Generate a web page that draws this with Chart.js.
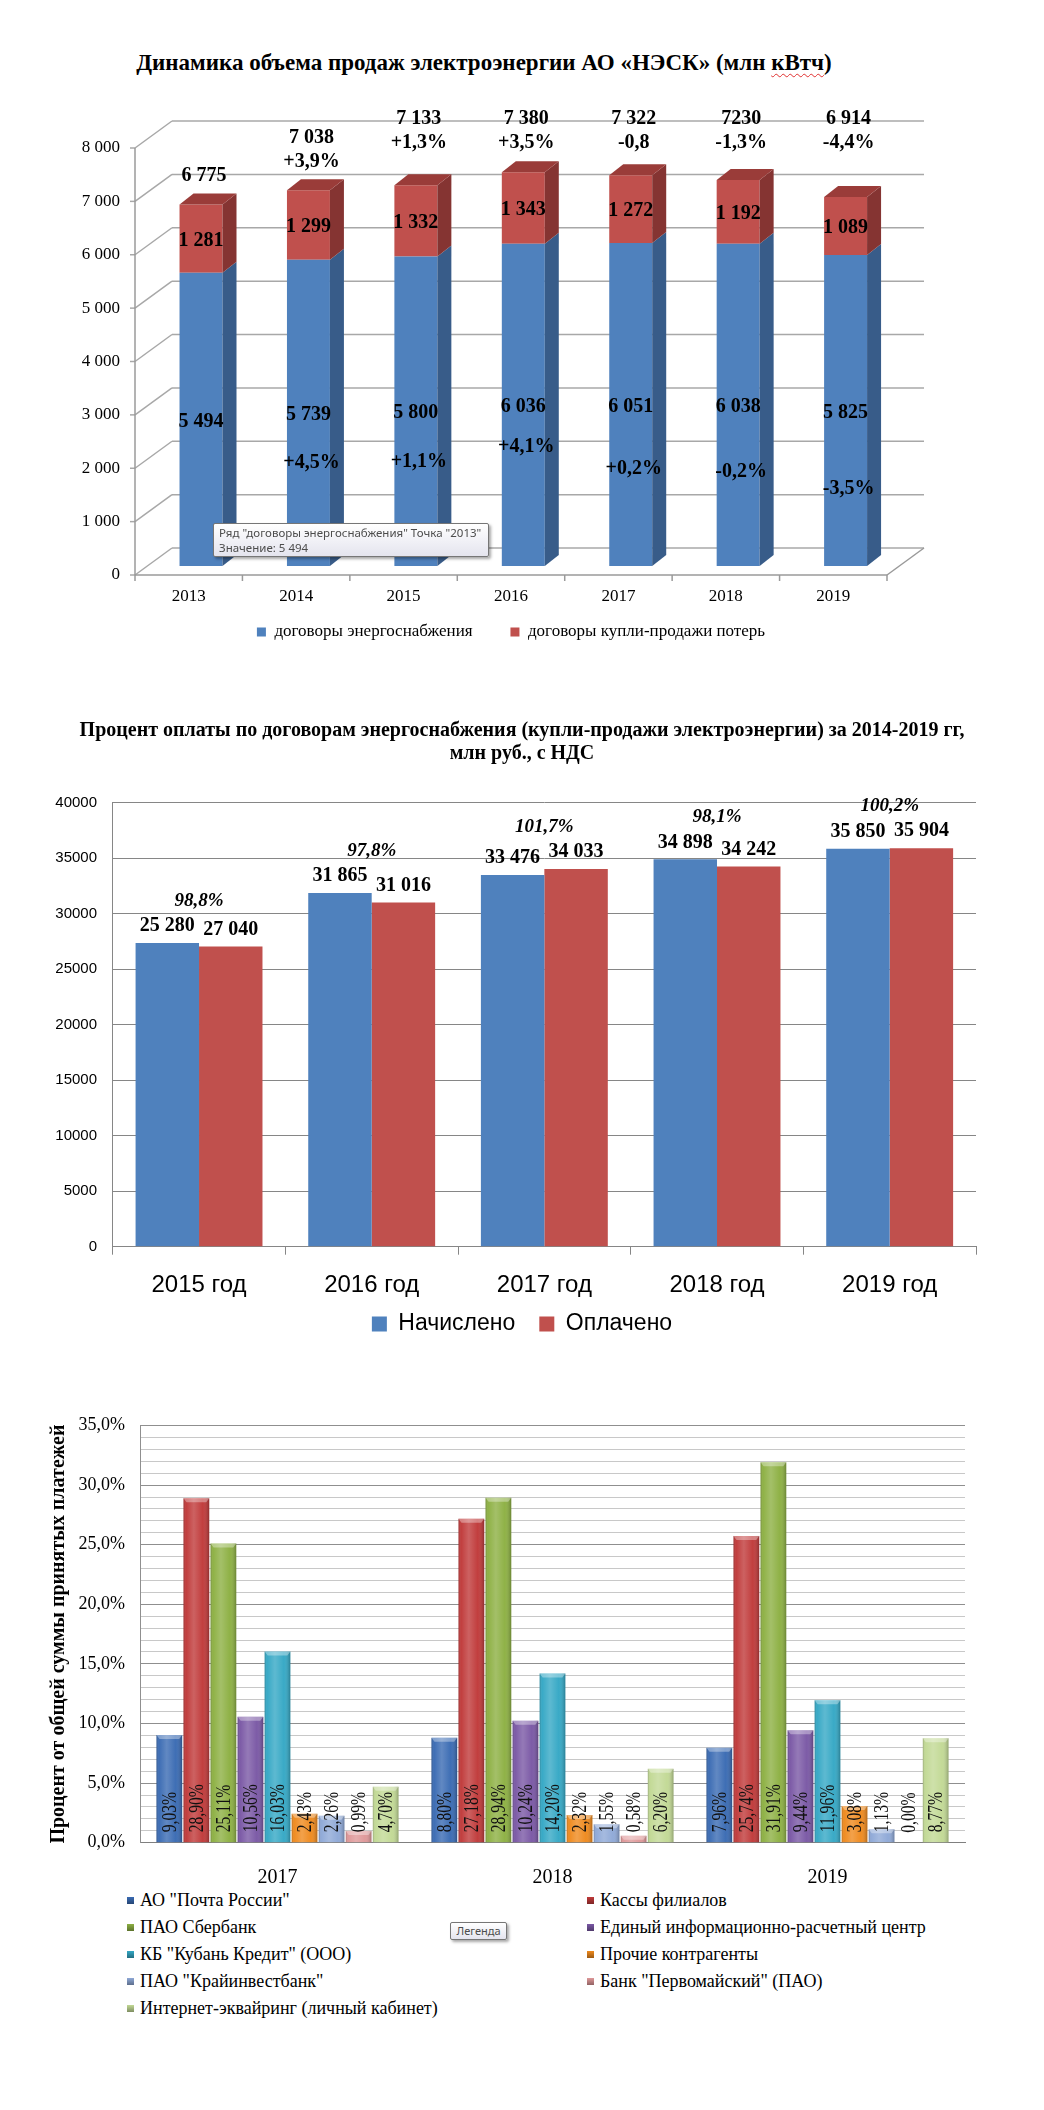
<!DOCTYPE html>
<html><head><meta charset="utf-8">
<script src="https://cdn.jsdelivr.net/npm/chart.js@4.4.1/dist/chart.umd.min.js"></script>
<style>
body{margin:0;background:#fff;width:1044px;height:2110px;position:relative;overflow:hidden;font-family:"Liberation Serif",serif;}
canvas{position:absolute;left:0;}
.title1{position:absolute;left:0;width:968px;top:50px;text-align:center;font:bold 23px "Liberation Serif";color:#000;white-space:nowrap;}
.wavy{text-decoration:underline wavy #e03030;text-decoration-thickness:1px;text-underline-offset:3px;}
.tip{position:absolute;border:1px solid #767676;border-radius:2px;background:linear-gradient(#ffffff,#e4e4ee);box-shadow:2px 2px 3px rgba(0,0,0,0.35);font:11.5px "Noto Sans",sans-serif;color:#4c4c4c;white-space:nowrap;box-sizing:border-box;overflow:hidden;}
#legend3{position:absolute;left:0;top:0;}
.lg3{position:absolute;font:18px "Liberation Serif";color:#000;white-space:nowrap;line-height:20px;}
.lg3 i{position:absolute;left:-13px;top:7px;width:7px;height:7px;}
</style></head><body>
<div class="title1">Динамика объема продаж электроэнергии АО «НЭСК» (млн <span class="wavy">кВтч</span>)</div>
<canvas id="c1" width="1022" height="680" style="top:0"></canvas>
<canvas id="c2" width="1044" height="680" style="top:680px"></canvas>
<canvas id="c3" width="1044" height="510" style="top:1380px"></canvas>
<div class="tip" style="left:213px;top:523px;width:276px;height:34px;padding:1px 5px;line-height:15px;">Ряд "договоры энергоснабжения" Точка "2013"<br>Значение: 5 494</div>
<div id="legend3"></div>
<div class="tip" style="left:450px;top:1922px;width:57px;height:18px;font-size:11px;line-height:16px;text-align:center;">Легенда</div>
<script>
// ---------------- data: chart 1 ----------------
const years1 = ['2013','2014','2015','2016','2017','2018','2019'];
const supplyContracts = [5494,5739,5800,6036,6051,6038,5825];
const lossContracts = [1281,1299,1332,1343,1272,1192,1089];
const totalText = ['6 775','7 038','7 133','7 380','7 322','7230','6 914'];
const totalChangeText = ['','+3,9%','+1,3%','+3,5%','-0,8','-1,3%','-4,4%'];
const supplyChangeText = ['','+4,5%','+1,1%','+4,1%','+0,2%','-0,2%','-3,5%'];
const yTicks1 = [0,1000,2000,3000,4000,5000,6000,7000,8000];
// where the annotation texts sit, in axis units
const totalTextAt = [7306,7563,7924,7924,7924,7924,7924];
const supplyChangeAt = [null,1930,1948,2229,1817,1761,1443];

// ---------------- data: chart 2 ----------------
const years2 = ['2015 год','2016 год','2017 год','2018 год','2019 год'];
const accrued = [27370,31865,33476,34898,35850];
const paid = [27040,31016,34033,34242,35904];
const accruedPrinted = [25280,31865,33476,34898,35850];
const paymentRate = ['98,8%','97,8%','101,7%','98,1%','100,2%'];
const yTicks2 = [0,5000,10000,15000,20000,25000,30000,35000,40000];

// ---------------- data: chart 3 ----------------
const years3 = ['2017','2018','2019'];
const pochtaRossii = [9.03,8.80,7.96];
const kassyFilialov = [28.90,27.18,25.74];
const sberbank = [25.11,28.94,31.91];
const eirc = [10.56,10.24,9.44];
const kubanKredit = [16.03,14.20,11.96];
const prochie = [2.43,2.32,3.08];
const kraiinvestbank = [2.26,1.55,1.13];
const pervomaisky = [0.99,0.58,0.00];
const internetAcquiring = [4.70,6.20,8.77];

const fmtNum = n => String(n).replace(/\B(?=(\d{3})+(?!\d))/g, ' ');
const SERIF = '"Liberation Serif", serif';
const SANS = '"Liberation Sans", Arial, sans-serif';

function poly(ctx, pts, color){ctx.beginPath();ctx.moveTo(pts[0][0],pts[0][1]);for(let i=1;i<pts.length;i++)ctx.lineTo(pts[i][0],pts[i][1]);ctx.closePath();ctx.fillStyle=color;ctx.fill();}
function ln(ctx,a,b,c,d){ctx.beginPath();ctx.moveTo(a,b);ctx.lineTo(c,d);ctx.stroke();}

// ================= CHART 1 =================
const depth1 = {bar:[14,-11], front:[-12.3,9], back:[24.7,-18]};
const shade1 = [{side:'#385c89', top:'#43709f'},{side:'#853432', top:'#9a3c39'}];
const wall1 = {
  id:'wall1',
  beforeDatasetsDraw(chart){
    const {ctx, chartArea:{left,right}, scales:{x,y}} = chart;
    const [fx,fy]=depth1.front, [bx,by]=depth1.back;
    ctx.save(); ctx.lineWidth=1.5; ctx.strokeStyle='#a8a8a8';
    yTicks1.forEach(v=>{const py=y.getPixelForValue(v);
      ln(ctx,left+bx,py+by,right+bx,py+by);
      ln(ctx,left+fx,py+fy,left+bx,py+by);
      ln(ctx,left+fx-5,py+fy,left+fx,py+fy);});
    const y0=y.getPixelForValue(0), yT=y.getPixelForValue(yTicks1[yTicks1.length-1]);
    ctx.strokeStyle='#9a9a9a';
    ln(ctx,left+fx,yT+fy,left+fx,y0+fy);
    ln(ctx,left+fx,y0+fy,right+fx,y0+fy);
    ln(ctx,right+fx,y0+fy,right+bx,y0+by);
    const step=x.getPixelForValue(1)-x.getPixelForValue(0);
    for(let i=0;i<=years1.length;i++){const px=x.getPixelForValue(0)-step/2+i*step+fx; ln(ctx,px,y0+fy,px,y0+fy+6);}
    ctx.restore();
  },
  afterDatasetsDraw(chart){
    const {ctx, scales:{y}} = chart; const [dx,dy]=depth1.bar;
    const n=chart.data.datasets.length;
    ctx.save();
    chart.data.datasets.forEach((ds,di)=>{
      chart.getDatasetMeta(di).data.forEach((bar)=>{
        const p=bar.getProps(['x','y','base','width'],true);
        const xl=p.x-p.width/2, xr=p.x+p.width/2;
        poly(ctx,[[xr,p.y],[xr+dx,p.y+dy],[xr+dx,p.base+dy],[xr,p.base]],shade1[di].side);
        if(di===n-1) poly(ctx,[[xl,p.y],[xl+dx,p.y+dy],[xr+dx,p.y+dy],[xr,p.y]],shade1[di].top);
      });
    });
    ctx.fillStyle='#000'; ctx.textAlign='center'; ctx.textBaseline='middle';
    ctx.font='bold 20px '+SERIF;
    chart.data.datasets.forEach((ds,di)=>{
      chart.getDatasetMeta(di).data.forEach((bar,i)=>{
        const p=bar.getProps(['x','y','base'],true);
        ctx.fillText(fmtNum(ds.data[i]),p.x,(p.y+p.base)/2+2);
      });
    });
    const meta0=chart.getDatasetMeta(0);
    meta0.data.forEach((bar,i)=>{
      const cx=bar.x+3;
      if(supplyChangeAt[i]!==null) ctx.fillText(supplyChangeText[i],cx,y.getPixelForValue(supplyChangeAt[i]));
      const yy=y.getPixelForValue(totalTextAt[i]);
      if(totalChangeText[i]){ctx.fillText(totalChangeText[i],cx,yy);ctx.fillText(totalText[i],cx,yy-24);}
      else ctx.fillText(totalText[i],cx,yy);
    });
    ctx.restore();
  }
};
new Chart(document.getElementById('c1'),{
  type:'bar',
  data:{labels:years1,datasets:[
    {label:'договоры энергоснабжения',data:supplyContracts,backgroundColor:'#4f81bd',categoryPercentage:0.4,barPercentage:1},
    {label:'договоры купли-продажи потерь',data:lossContracts,backgroundColor:'#c0504d',categoryPercentage:0.4,barPercentage:1}
  ]},
  options:{
    responsive:false,animation:false,devicePixelRatio:1,
    layout:{padding:{top:139,bottom:29.5,left:0,right:0}},
    plugins:{legend:{position:'bottom',labels:{boxWidth:9,boxHeight:9,padding:16.6,color:'#000',font:{family:SERIF,size:17},
        generateLabels:ch=>Chart.defaults.plugins.legend.labels.generateLabels(ch).map((l,i)=>{if(i===0)l.text=l.text+' \u2003';return l;})}},
      tooltip:{enabled:false},title:{display:false}},
    scales:{
      x:{stacked:true,grid:{display:false,drawTicks:false},border:{display:false},
         ticks:{color:'#000',font:{family:SERIF,size:17},padding:20,labelOffset:-12.3},
         afterFit:s=>{s.height=40.9;}},
      y:{stacked:true,min:0,max:8000,grid:{display:false,drawTicks:false},border:{display:false},
         ticks:{stepSize:1000,color:'#000',font:{family:SERIF,size:17},padding:27.3,labelOffset:9,callback:v=>fmtNum(v)},
         afterFit:s=>{s.width=147.3;}},
      yR:{type:'linear',position:'right',display:true,grid:{display:false,drawTicks:false},border:{display:false},ticks:{display:false},
         afterFit:s=>{s.width=1022-899.3;}}
    }
  },
  plugins:[wall1]
});

// ================= CHART 2 =================
const labels2 = {
  id:'labels2',
  afterDatasetsDraw(chart){
    const {ctx}=chart; ctx.save(); ctx.fillStyle='#000'; ctx.textAlign='center'; ctx.textBaseline='middle';
    const m0=chart.getDatasetMeta(0), m1=chart.getDatasetMeta(1);
    ctx.font='bold 20px '+SERIF;
    m0.data.forEach((b,i)=>ctx.fillText(fmtNum(accruedPrinted[i]),b.x,b.y-17));
    m1.data.forEach((b,i)=>ctx.fillText(fmtNum(paid[i]),b.x,b.y-17));
    ctx.font='italic bold 19px '+SERIF;
    m0.data.forEach((b,i)=>{const top=Math.min(b.y,m1.data[i].y); ctx.fillText(paymentRate[i],(b.x+m1.data[i].x)/2,top-42);});
    ctx.restore();
  }
};
new Chart(document.getElementById('c2'),{
  type:'bar',
  data:{labels:years2,datasets:[
    {label:'Начислено',data:accrued,backgroundColor:'#4f81bd',categoryPercentage:0.735,barPercentage:1},
    {label:'Оплачено',data:paid,backgroundColor:'#c0504d',categoryPercentage:0.735,barPercentage:1}
  ]},
  options:{
    responsive:false,animation:false,devicePixelRatio:1,
    layout:{padding:{top:0,bottom:14.5,left:0,right:0}},
    plugins:{
      title:{display:true,text:['Процент оплаты по договорам энергоснабжения (купли-продажи электроэнергии) за 2014-2019 гг,','млн руб., с НДС'],
        color:'#000',font:{family:SERIF,size:20,weight:'bold',lineHeight:1.15},padding:{top:39,bottom:37.7}},
      legend:{position:'bottom',labels:{boxWidth:15,boxHeight:15,padding:12.5,color:'#000',font:{family:SANS,size:23},
        generateLabels:ch=>Chart.defaults.plugins.legend.labels.generateLabels(ch).map((l,i)=>{if(i===0)l.text=l.text+'\u2002';return l;})}},
      tooltip:{enabled:false}
    },
    scales:{
      x:{grid:{drawOnChartArea:false,drawTicks:true,tickLength:8,color:'#868686'},border:{color:'#868686'},
         ticks:{color:'#000',font:{family:SANS,size:24},padding:16},
         afterFit:s=>{s.height=53.3;}},
      y:{min:0,max:40000,grid:{color:'#868686',drawTicks:false},border:{color:'#868686'},
         ticks:{stepSize:5000,color:'#000',font:{family:SANS,size:15},padding:15.7,callback:v=>String(v)},
         afterFit:s=>{s.width=112.7;}},
      yR:{type:'linear',position:'right',display:true,grid:{display:false,drawTicks:false},border:{display:false},ticks:{display:false},
         afterFit:s=>{s.width=68;}}
    }
  },
  plugins:[labels2]
});

// ================= CHART 3 =================
const series3 = [
  {label:'АО "Почта России"',data:pochtaRossii,color:'#3a6bb3'},
  {label:'Кассы филиалов',data:kassyFilialov,color:'#c03a3a'},
  {label:'ПАО Сбербанк',data:sberbank,color:'#8db043'},
  {label:'Единый информационно-расчетный центр',data:eirc,color:'#7a58a5'},
  {label:'КБ "Кубань Кредит" (ООО)',data:kubanKredit,color:'#35a8c5'},
  {label:'Прочие контрагенты',data:prochie,color:'#ef8a1e'},
  {label:'ПАО "Крайинвестбанк"',data:kraiinvestbank,color:'#8fa9d7'},
  {label:'Банк "Первомайский" (ПАО)',data:pervomaisky,color:'#df9899'},
  {label:'Интернет-эквайринг (личный кабинет)',data:internetAcquiring,color:'#c2d995'}
];
const gloss3 = {
  id:'gloss3',
  afterDatasetsDraw(chart){
    const {ctx}=chart; ctx.save();
    chart.data.datasets.forEach((ds,di)=>{
      chart.getDatasetMeta(di).data.forEach((bar,i)=>{
        const p=bar.getProps(['x','y','base','width'],true);
        const xl=p.x-p.width/2, xr=p.x+p.width/2, h=p.base-p.y;
        if(h>0.5){
          const g=ctx.createLinearGradient(xl,0,xr,0);
          g.addColorStop(0,'rgba(0,0,0,0.22)');g.addColorStop(0.1,'rgba(255,255,255,0.02)');
          g.addColorStop(0.4,'rgba(255,255,255,0.2)');g.addColorStop(0.75,'rgba(255,255,255,0.02)');g.addColorStop(1,'rgba(0,0,0,0.25)');
          ctx.fillStyle=g; ctx.fillRect(xl,p.y,xr-xl,h);
          if(h>4){poly(ctx,[[xl,p.y],[xr,p.y],[xr-3,p.y+4],[xl+3,p.y+4]],'rgba(255,255,255,0.35)');}
        }
        ctx.save(); ctx.translate(p.x,p.base-10); ctx.rotate(-Math.PI/2); ctx.scale(0.97,1.25);
        ctx.font='16px '+SERIF; ctx.fillStyle='#111'; ctx.textAlign='left'; ctx.textBaseline='middle';
        ctx.fillText(ds.data[i].toFixed(2).replace('.',',')+'%',0,1);
        ctx.restore();
      });
    });
    ctx.restore();
  }
};
new Chart(document.getElementById('c3'),{
  type:'bar',
  data:{labels:years3,datasets:series3.map(s=>({label:s.label,data:s.data,backgroundColor:s.color,categoryPercentage:0.885,barPercentage:0.95}))},
  options:{
    responsive:false,animation:false,devicePixelRatio:1,
    layout:{padding:{top:45.5,bottom:0,left:0,right:79}},
    plugins:{legend:{display:false},tooltip:{enabled:false}},
    scales:{
      x:{grid:{display:false},border:{color:'#7f7f7f'},
         ticks:{color:'#000',font:{family:SERIF,size:20},padding:15},
         afterFit:s=>{s.height=47.3;}},
      y:{min:0,max:35,
         grid:{drawTicks:false,color:c=>(c.tick&&c.tick.value%5===0)?'#8f8f8f':'#c8c8c8'},
         border:{color:'#8f8f8f'},
         ticks:{stepSize:1,autoSkip:false,color:'#000',font:{family:SERIF,size:18},padding:15,
                callback:v=>v%5===0?v.toFixed(1).replace('.',',')+'%':''},
         title:{display:true,text:'Процент от общей суммы принятых платежей',color:'#000',font:{family:SERIF,size:20,weight:'bold'},padding:{top:47,bottom:0}},
         afterFit:s=>{s.width=140;}}
    }
  },
  plugins:[gloss3]
});

// legend for chart 3 (two columns)
(function(){
  const host=document.getElementById('legend3');
  const colX=[140,600], rowY=[1890,1917,1944,1971,1998];
  series3.forEach((s,i)=>{
    const d=document.createElement('div'); d.className='lg3';
    d.style.left=colX[i%2]+'px'; d.style.top=rowY[Math.floor(i/2)]+'px';
    const b=document.createElement('i'); b.style.background='linear-gradient('+s.color+',rgba(0,0,0,0.35))'; b.style.backgroundColor=s.color;
    d.appendChild(b); d.appendChild(document.createTextNode(s.label));
    host.appendChild(d);
  });
})();
</script>
</body></html>
